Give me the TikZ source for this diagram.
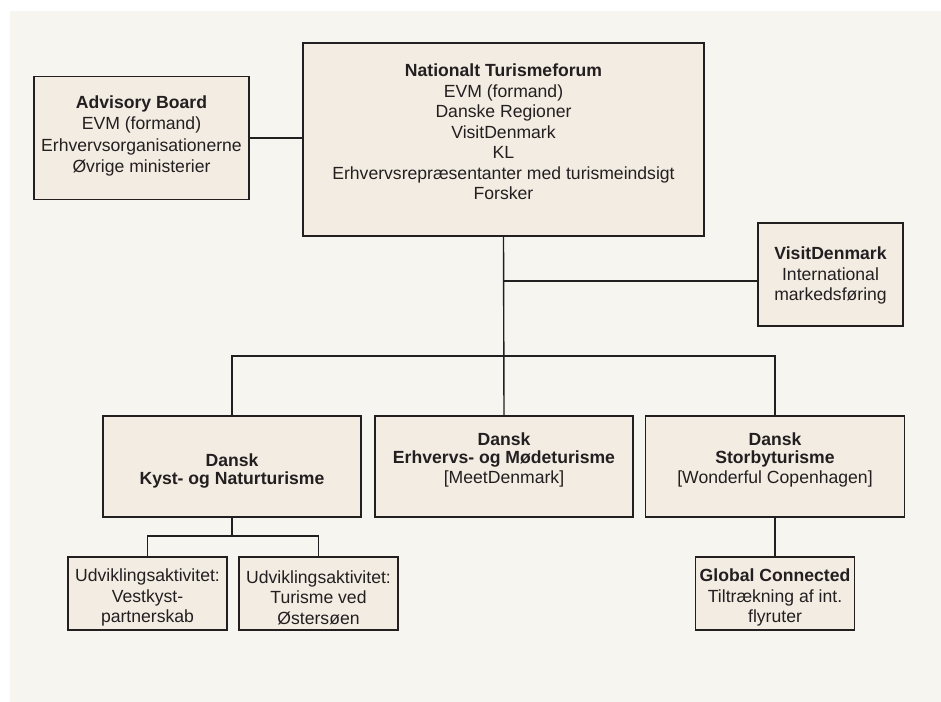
\documentclass[tikz,border=0pt]{standalone}
\usepackage{fontspec}
\setmainfont{Liberation Sans}
\definecolor{panel}{RGB}{246,245,239}
\definecolor{boxfill}{RGB}{242,236,226}
\definecolor{ink}{RGB}{35,31,32}

\begin{document}
\begin{tikzpicture}[x=1bp, y=-1bp,
		box/.style={draw=ink, line width=1.4bp, fill=boxfill, text=ink, align=center, inner sep=0pt,
			font=\fontsize{17.6bp}{20.5bp}\selectfont},
		link/.style={draw=ink, line width=1.4bp}]
		\useasboundingbox (0,0) rectangle (941,702);
		\fill[panel] (10,11) rectangle (941,702);
		\node[box, minimum width=215bp, minimum height=123bp] (adv) at (141.5,138) {\textbf{Advisory Board}\\[1bp]EVM (formand)\\[1bp]Erhvervsorganisationerne\\[1bp]Øvrige ministerier\rule[-8bp]{0pt}{8bp}};
		\node[box, minimum width=401bp, minimum height=193bp] (forum) at (503.5,139.5) {\textbf{Nationalt Turismeforum}\\EVM (formand)\\Danske Regioner\\VisitDenmark\\KL\\Erhvervsrepræsentanter med turismeindsigt\\Forsker\rule[-15bp]{0pt}{15bp}};
		\node[box, minimum width=145bp, minimum height=103bp] (visit) at (830.5,274.5) {\rule{0pt}{15bp}\textbf{VisitDenmark}\\International\\markedsføring};
		\node[box, minimum width=258bp, minimum height=101bp] (kyst) at (232,466.5) {\rule{0pt}{22bp}\textbf{Dansk}\\[-2.5bp]\textbf{Kyst- og Naturturisme}};
		\node[box, minimum width=258bp, minimum height=101bp] (erhverv) at (504,466.5) {\textbf{Dansk}\\[-2.5bp]\textbf{Erhvervs- og Mødeturisme}\\{[MeetDenmark]}\rule[-17bp]{0pt}{17bp}};
		\node[box, minimum width=259bp, minimum height=101bp] (storby) at (775,466.5) {\textbf{Dansk}\\[-2.5bp]\textbf{Storbyturisme}\\{[Wonderful Copenhagen]}\rule[-17bp]{0pt}{17bp}};
		\node[box, minimum width=159bp, minimum height=73bp] (vestkyst) at (147.5,593.5) {\rule{0pt}{21bp}Udviklingsaktivitet:\\Vestkyst-\\partnerskab};
		\node[box, minimum width=159bp, minimum height=73bp] (oester) at (318.5,593.5) {\rule{0pt}{21bp}Udviklingsaktivitet:\\Turisme ved\\Østersøen};
		\node[box, minimum width=159bp, minimum height=73bp] (global) at (775,593.5) {\rule{0pt}{21bp}\textbf{Global Connected}\\Tiltrækning af int.\\flyruter};
		\coordinate (split) at (504,356);
		\coordinate (kystsplit) at (232,536);
		\coordinate (visitin) at (758,281);
		\draw[link] (adv.east) -- (adv.east -| forum.west);
		\draw[link] (forum.south) -- (erhverv.north);
		\draw[link] (forum.south |- visitin) -- (visitin);
		\draw[link] (kyst.north) |- (split) -| (storby.north);
		\draw[link] (kyst.south) -- (kystsplit);
		\draw[link] (vestkyst.north) |- (kystsplit) -| (oester.north);
		\draw[link] (storby.south) -- (global.north);
	\end{tikzpicture}
\end{document}
